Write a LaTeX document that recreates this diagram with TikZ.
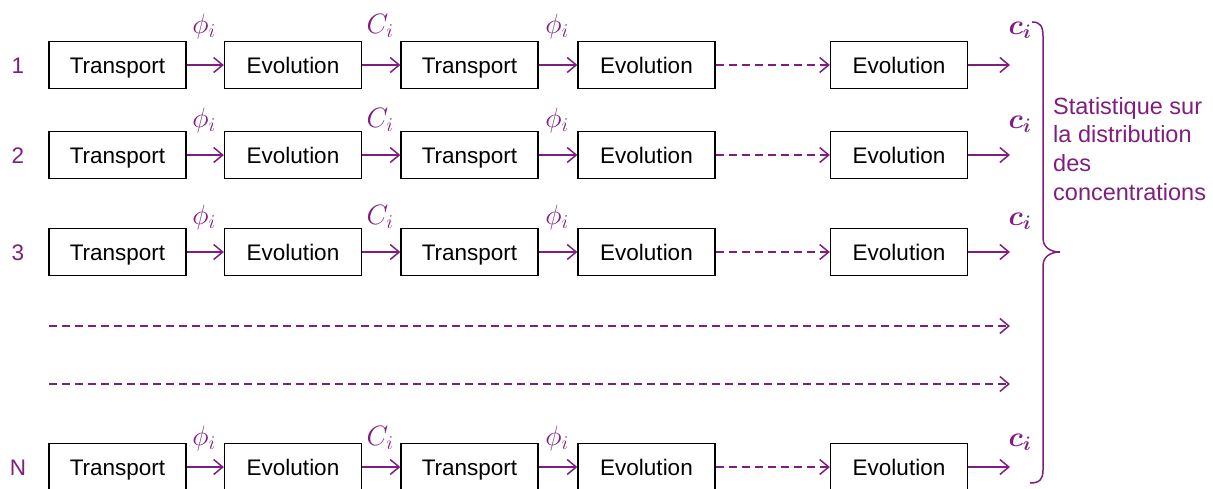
\documentclass[tikz,border=0pt]{standalone}
\usepackage{fix-cm}
\usepackage{bm}
\usepackage{fontspec}
\setmainfont{Liberation Sans}
\usetikzlibrary{arrows.meta}
\definecolor{purp}{RGB}{128,30,128}
\begin{document}
\begin{tikzpicture}[x=1pt,y=-1pt,
  box/.style={draw=black,line width=1.3pt,minimum width=137pt,minimum height=47pt,inner sep=0pt,text height=20pt,text depth=4pt,font=\fontsize{22.5}{27}\selectfont},
  conn/.style={draw=purp,line width=1.5pt,-{Straight Barb[length=9pt,width=15pt,line width=1.5pt]}},
  dconn/.style={conn,dash pattern=on 8pt off 5pt},
  lab/.style={text=purp,font=\fontsize{22.5}{27}\selectfont,inner sep=0pt},
  mlab/.style={text=purp,font=\fontsize{28}{32}\selectfont,inner sep=0pt}]
\useasboundingbox (0,0) rectangle (1213,488);
\clip (0,0) rectangle (1213,488);
\foreach \r/\y/\n/\d in {1/65/1/39,2/155/2/35,3/252/3/35,4/467/N/29}{
  \node[box] (t1-\r) at (117.5,\y) {Transport};
  \node[box] (e1-\r) at (293,\y) {Evolution};
  \node[box] (t2-\r) at (469.5,\y) {Transport};
  \node[box] (e2-\r) at (646.5,\y) {Evolution};
  \node[box] (e3-\r) at (899,\y) {Evolution};
  \coordinate (end-\r) at (1010,\y);
  \node[lab] (num-\r) at (18,\y+1) {\n};
  \draw[conn] (t1-\r) -- (e1-\r);
  \draw[conn] (e1-\r) -- (t2-\r);
  \draw[conn] (t2-\r) -- (e2-\r);
  \draw[dconn] (e2-\r) -- (e3-\r);
  \draw[conn] (e3-\r) -- (end-\r);
  \node[mlab] (pa-\r) at (204,\y-\d) {$\phi_i$};
  \node[mlab] (ca-\r) at (380,\y-\d) {$C_i$};
  \node[mlab] (pb-\r) at (557,\y-\d) {$\phi_i$};
  \node[mlab] (cb-\r) at (1020,\y-\d+4) {$\bm{c}_{\bm{i}}$};
}
\coordinate (d1s) at (49,326);
\coordinate (d1e) at (1010,326);
\coordinate (d2s) at (49,384);
\coordinate (d2e) at (1010,384);
\draw[dconn] (d1s) -- (d1e);
\draw[dconn] (d2s) -- (d2e);
\draw[purp,line width=1.5pt] (1032,22) .. controls (1040,22) and (1043,26) .. (1043,36)
  -- (1043,238) .. controls (1043,247) and (1050,252) .. (1060,252)
  .. controls (1050,252) and (1043,257) .. (1043,266)
  -- (1043,470) .. controls (1043,479) and (1040,483) .. (1030,483);
\node[lab,anchor=north west,align=left,font=\fontsize{23.5}{28.7}\selectfont] (stat) at (1053,97)
  {Statistique sur\\la distribution\\des\\concentrations};
\end{tikzpicture}
\end{document}
